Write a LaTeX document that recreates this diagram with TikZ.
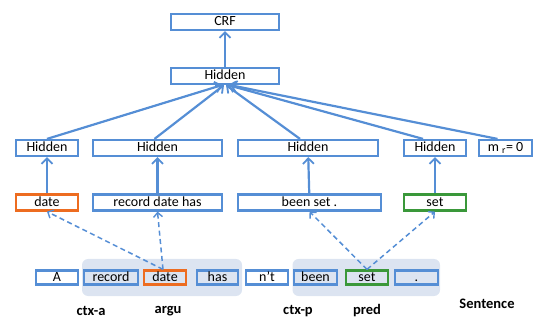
\documentclass[tikz,border=0pt]{standalone}
\usepackage{fontspec}
\setmainfont{Carlito}
\usetikzlibrary{arrows.meta}
\definecolor{boxblue}{RGB}{85,142,213}
\definecolor{argorange}{RGB}{237,108,32}
\definecolor{predgreen}{RGB}{58,152,58}
\definecolor{groupfill}{RGB}{220,228,241}
\tikzset{
  box/.style={draw=boxblue, line width=2.2pt, fill=white, inner sep=0pt,
    minimum height=16pt, text height=9.8pt, text depth=2.6pt,
    font=\fontsize{14}{16}\selectfont},
  wordbox/.style={box, minimum height=14pt, fill=groupfill},
  plainword/.style={box, minimum height=14pt, fill=white},
  argbox/.style={draw=argorange},
  predbox/.style={draw=predgreen},
  group/.style={fill=groupfill, rounded corners=6pt},
  link/.style={boxblue, line width=2.2pt,
    -{Straight Barb[length=5.5pt,width=11pt,line width=1.8pt]}},
  dlink/.style={boxblue, line width=1.5pt, dash pattern=on 5pt off 3.5pt,
    -{Straight Barb[length=4.5pt,width=9pt,line width=1.4pt]}},
  tag/.style={inner sep=0pt, font=\fontsize{14.5}{16}\selectfont\bfseries}
}
\begin{document}
\begin{tikzpicture}[x=1pt,y=-1pt]
\useasboundingbox (0,0) rectangle (535,320);

% shaded context groups
\fill[group] (82,259) rectangle (242,296);
\fill[group] (292.5,259) rectangle (440,296);

% top layers
\node[box, minimum width=108pt] (crf) at (225,22) {CRF};
\node[box, minimum width=108pt] (top) at (225,76) {Hidden};

% hidden row
\node[box, minimum width=62pt]  (h1) at (47,148) {Hidden};
\node[box, minimum width=129pt] (h2) at (157.5,148) {Hidden};
\node[box, minimum width=140pt] (h3) at (308,148) {Hidden};
\node[box, minimum width=62pt]  (h4) at (435,148) {Hidden};
\node[box, minimum width=53pt]  (hm) at (505.5,148) {m \textsubscript{r}= 0};

% span row
\node[box, argbox, minimum width=62pt]  (s1) at (47,202.5) {date};
\node[box, minimum width=129pt] (s2) at (157.5,202.5) {record date has};
\node[box, minimum width=143pt] (s3) at (309.5,202.5) {been set .};
\node[box, predbox, minimum width=62pt] (s4) at (435,202.5) {set};

% sentence row
\node[plainword, minimum width=42pt] (wA) at (57,277.5) {A};
\node[wordbox, minimum width=54pt] (wrecord) at (111,277.5) {record};
\node[wordbox, argbox, minimum width=42pt] (wdate) at (165,277.5) {date};
\node[wordbox, minimum width=41pt] (whas) at (217.5,277.5) {has};
\node[plainword, minimum width=42pt] (wnt) at (267,277.5) {n’t};
\node[wordbox, minimum width=43pt] (wbeen) at (315.5,277.5) {been};
\node[wordbox, predbox, minimum width=42pt] (wset) at (367,277.5) {set};
\node[wordbox, minimum width=43pt] (wdot) at (416.5,277.5) {.};

% labels
\node[tag] (lctxa) at (91,311) {ctx-a};
\node[tag] (largu) at (168,311) {argu};
\node[tag] (lctxp) at (298,311) {ctx-p};
\node[tag] (lpred) at (367,311) {pred};
\node[tag] (lsent) at (487,304) {Sentence};

% solid connectors
\draw[link] (top) -- (crf);
\draw[link] (h1.north) -- ([xshift=-3pt]top.south);
\draw[link] ([xshift=-3pt]h2.north) -- ([xshift=-1pt]top.south);
\draw[link] ([xshift=-8pt]h3.north) -- ([xshift=1pt]top.south);
\draw[link] ([xshift=-12pt]h4.north) -- ([xshift=3pt]top.south);
\draw[link] ([xshift=-8pt]hm.north) -- ([xshift=5pt]top.south);
\draw[link] (s1) -- (h1);
\draw[link] (s2) -- (h2);
\draw[link] (s3) -- (h3);
\draw[link] (s4) -- (h4);

% dashed connectors
\draw[dlink] ([xshift=-2pt]wdate.north) -- (s1.south);
\draw[dlink] ([xshift=-2pt]wdate.north) -- (s2.south);
\draw[dlink] (wset.north) -- (s3.south);
\draw[dlink] (wset.north) -- (s4.south);
\end{tikzpicture}
\end{document}
